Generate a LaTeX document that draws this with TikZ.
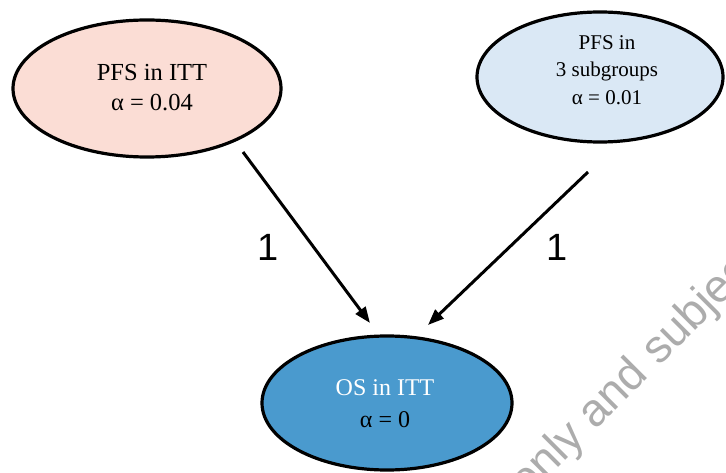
\documentclass[tikz,border=0pt]{standalone}
\usepackage{fontspec}
\setmainfont{Liberation Serif}
\newfontfamily\labelfont{Liberation Sans}
\usetikzlibrary{arrows.meta}
\definecolor{pinkfill}{RGB}{251,221,213}
\definecolor{lightblue}{RGB}{218,232,245}
\definecolor{midblue}{RGB}{74,154,206}
\definecolor{wmgray}{RGB}{172,172,172}
\tikzset{
  ellborder/.style={line width=3.2pt},
  txt/.style={font=\fontsize{24.5}{30}\selectfont, align=center},
  conn/.style={line width=3pt, -{Triangle[length=16pt,width=12pt]}},
  wlabel/.style={font=\labelfont\fontsize{38}{40}\selectfont},
}
\begin{document}
\begin{tikzpicture}[x=1pt,y=1pt]
\useasboundingbox (0,0) rectangle (726,472);
\begin{scope}
\clip (0,0) rectangle (726,472);
% watermark
\node[font=\labelfont\fontsize{46}{46}\selectfont, text=wmgray, rotate=45, anchor=base west, inner sep=0pt] (wm) at (527,-27) {only and subject};
% ellipses
\filldraw[fill=pinkfill, ellborder] (147,383.5) ellipse [x radius=134, y radius=68.5];
\filldraw[fill=lightblue, ellborder] (600,395) ellipse [x radius=123, y radius=65];
\filldraw[fill=midblue, ellborder] (387,69) ellipse [x radius=125, y radius=67];
\end{scope}
% texts
\node[txt] (L) at (152,384) {PFS in ITT\\α = 0.04};
\node[txt, font=\fontsize{21}{27.5}\selectfont] (R) at (607,402) {PFS in\\3 subgroups\\α = 0.01};
\node[txt, font=\fontsize{24}{32}\selectfont] (B) at (385,68) {\textcolor{white}{OS in ITT}\\α = 0};
% connectors
\coordinate (l1) at (243,320);
\coordinate (l2) at (370,149);
\coordinate (r1) at (588,300);
\coordinate (r2) at (428,147);
\draw[conn] (l1) -- (l2);
\draw[conn] (r1) -- (r2);
\node[wlabel] (n1) at (268,225) {1};
\node[wlabel] (n2) at (557,225) {1};
\end{tikzpicture}
\end{document}
